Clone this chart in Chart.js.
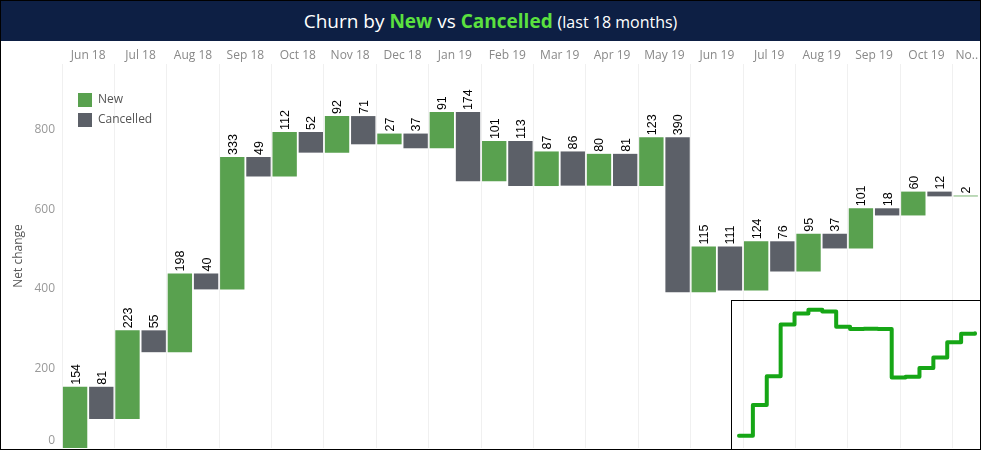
<!DOCTYPE html>
<html>
<head>
<meta charset="utf-8">
<script src="https://cdn.jsdelivr.net/npm/chart.js@4.4.1/dist/chart.umd.min.js"></script>
<style>
  html, body { margin: 0; padding: 0; background: #fff; }
  #frame {
    position: relative; width: 981px; height: 450px;
    border: 1px solid #000; box-sizing: border-box; overflow: hidden;
    font-family: 'Open Sans', sans-serif;
  }
  #title {
    height: 40px; line-height: 40px; background: #0d1f44; color: #fff;
    text-align: center; font-size: 19px; white-space: nowrap;
  }
  #title b { color: #5be13f; }
  #title small { font-size: 16px; }
  #main { position: absolute; left: 0; top: 40px; width: 1010px; height: 430px; }
  #inset {
    position: absolute; left: 730px; top: 299px; width: 249px; height: 149px;
    border-left: 1px solid #000; border-top: 1px solid #000; box-sizing: border-box;
  }
</style>
</head>
<body>
<div id="frame">
  <div id="title">Churn by <b>New</b> vs <b>Cancelled</b> <small>(last 18 months)</small></div>
  <div id="main"><canvas id="churnChart"></canvas></div>
  <div id="inset"><canvas id="trendChart"></canvas></div>
</div>
<script>
// months shown along the top axis (last one is cut off by the frame)
const months = ['Jun 18', 'Jul 18', 'Aug 18', 'Sep 18', 'Oct 18', 'Nov 18', 'Dec 18', 'Jan 19', 'Feb 19',
  'Mar 19', 'Apr 19', 'May 19', 'Jun 19', 'Jul 19', 'Aug 19', 'Sep 19', 'Oct 19', 'Nov 19'];
const newCounts = [154, 223, 198, 333, 112, 92, 27, 91, 101, 87, 80, 123, 115, 124, 95, 101, 60, 2];
const cancelledCounts = [81, 55, 40, 49, 52, 71, 37, 174, 113, 86, 81, 390, 111, 76, 37, 18, 12, null];
const yTicks = [0, 200, 400, 600, 800];

// --- build waterfall ranges: new goes up from the running total, cancelled comes down ---
let running = 0;
const newBars = [];
const cancelledBars = [];
const netTotals = [];
months.forEach((m, i) => {
  const start = running;
  running += newCounts[i];
  newBars.push([start, running]);
  if (cancelledCounts[i] === null) {
    cancelledBars.push(null);
  } else {
    const top = running;
    running -= cancelledCounts[i];
    cancelledBars.push([top, running]);
  }
  netTotals.push(running);
});

Chart.defaults.font.family = "'Open Sans', sans-serif";
Chart.defaults.font.size = 12;

// rotated value labels sitting on top of every bar
const barValues = {
  id: 'barValues',
  afterDatasetsDraw(chart) {
    const ctx = chart.ctx;
    const sources = [newCounts, cancelledCounts];
    ctx.save();
    ctx.fillStyle = '#000';
    ctx.font = "12.5px 'Liberation Sans', Arial, sans-serif";
    ctx.textAlign = 'left';
    ctx.textBaseline = 'middle';
    chart.data.datasets.forEach((ds, d) => {
      chart.getDatasetMeta(d).data.forEach((bar, i) => {
        const v = sources[d][i];
        if (v === null || v === undefined) return;
        const p = bar.getProps(['x', 'y', 'base'], true);
        ctx.save();
        ctx.translate(p.x + 1, Math.min(p.y, p.base) - 2);
        ctx.rotate(-Math.PI / 2);
        ctx.fillText(String(v), 0, 0);
        ctx.restore();
      });
    });
    ctx.restore();
  }
};

// nudge the legend into the upper left corner of the plot
const legendSpot = {
  id: 'legendSpot',
  afterLayout(chart) {
    chart.legend.left = chart.chartArea.left + 10;
    chart.legend.top = chart.chartArea.top + 23;
  }
};

new Chart(document.getElementById('churnChart'), {
  type: 'bar',
  data: {
    labels: months,
    datasets: [
      { label: 'New', data: newBars, backgroundColor: '#59a14f', borderWidth: 0,
        categoryPercentage: 1, barPercentage: 0.93 },
      { label: 'Cancelled', data: cancelledBars, backgroundColor: '#5c6068', borderWidth: 0,
        categoryPercentage: 1, barPercentage: 0.93 }
    ]
  },
  options: {
    responsive: true,
    maintainAspectRatio: false,
    animation: false,
    layout: { padding: { left: 0, right: 6, top: 0, bottom: 23 } },
    plugins: {
      tooltip: { enabled: false },
      legend: {
        position: 'chartArea',
        align: 'start',
        labels: { boxWidth: 14, boxHeight: 14, padding: 6, color: '#555', font: { size: 12 } }
      }
    },
    scales: {
      x: {
        position: 'top',
        grid: { color: '#f0f0f0', drawTicks: false },
        border: { display: false },
        ticks: {
          color: '#888', padding: 1, maxRotation: 0, autoSkip: false,
          // tableau shortens the clipped last month
          callback: (v, i) => i === months.length - 1 ? 'No..\u2002\u2002\u2002\u2002' : months[i]
        },
        afterFit: s => { s.height = 23; }
      },
      y: {
        min: 0,
        max: 966,
        grid: { display: false, drawTicks: false },
        border: { display: false },
        afterBuildTicks: s => { s.ticks = yTicks.map(v => ({ value: v })); },
        ticks: {
          color: '#999', padding: 7, autoSkip: false,
          // the bottom label is lifted a little, like in tableau
          callback: v => v === 0 ? ['0', ''] : String(v)
        },
        title: { display: true, text: 'Net change', color: '#555', font: { size: 12 }, padding: { top: 10, bottom: 0 } },
        afterFit: s => { s.width = 61; }
      }
    }
  },
  plugins: [barValues, legendSpot]
});

// small running-total trend in the bottom right corner
new Chart(document.getElementById('trendChart'), {
  type: 'line',
  data: {
    labels: months,
    datasets: [{
      data: netTotals,
      borderColor: '#16a616',
      borderWidth: 4,
      stepped: true,
      pointRadius: 0,
      borderCapStyle: 'round',
      borderJoinStyle: 'round',
      fill: false
    }]
  },
  options: {
    responsive: true,
    maintainAspectRatio: false,
    animation: false,
    layout: { padding: { left: 7, right: 5, top: 0, bottom: 0 } },
    plugins: { legend: { display: false }, tooltip: { enabled: false } },
    scales: {
      x: { display: false, offset: false },
      y: { display: false, min: 0, max: 812 }
    }
  }
});
</script>
</body>
</html>
